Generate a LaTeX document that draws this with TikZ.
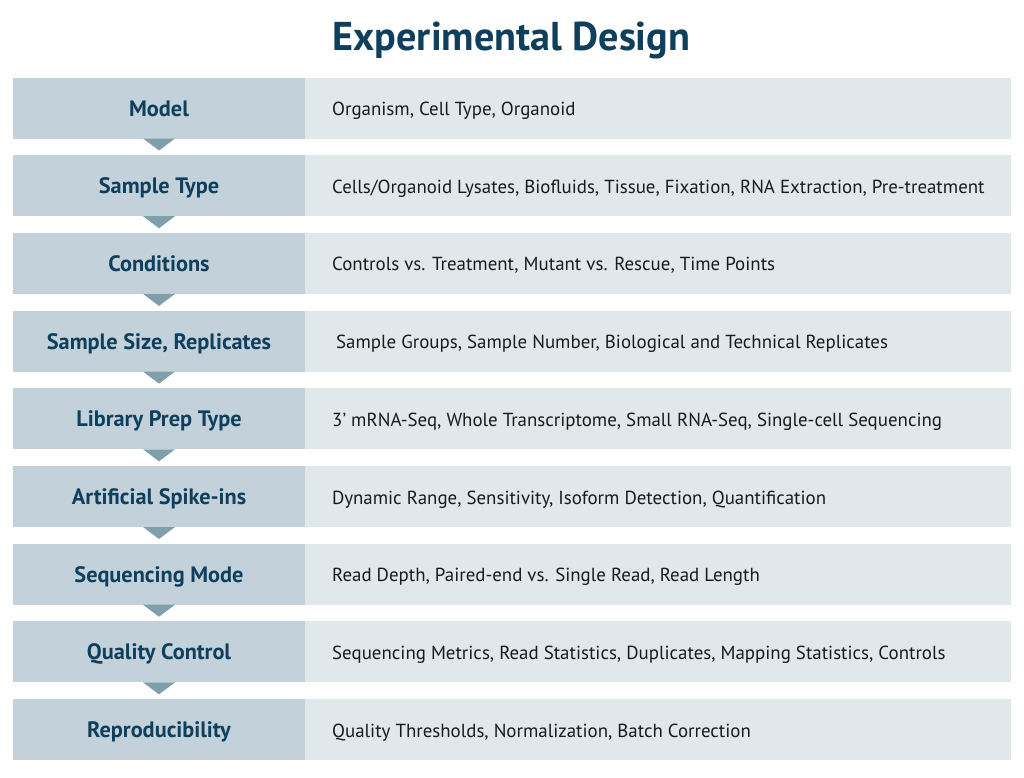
\documentclass[tikz,border=0pt]{standalone}
\usepackage{fontspec}
\setmainfont{PT Sans}
\usetikzlibrary{calc}
\definecolor{leftfill}{HTML}{C3D2DA}
\definecolor{rightfill}{HTML}{E1E8EB}
\definecolor{trifill}{HTML}{7F9FAB}
\definecolor{navy}{HTML}{0E3F5C}
\definecolor{bodytext}{HTML}{1A1A1A}
\tikzset{
  lbox/.style={fill=leftfill, draw=none, minimum width=292pt, minimum height=61pt, inner sep=0pt, outer sep=0pt},
  rbox/.style={fill=rightfill, draw=none, minimum width=705.5pt, minimum height=61pt, inner sep=0pt, outer sep=0pt},
  lbl/.style={anchor=base, inner sep=0pt, font=\fontsize{22.3}{26}\selectfont\bfseries, text=navy},
  desc/.style={anchor=base west, inner sep=0pt, font=\fontsize{18.9}{22}\selectfont, text=bodytext},
  tri/.style={fill=trifill, draw=none},
  titlestyle/.style={anchor=base, inner sep=0pt, font=\fontsize{40.2}{46}\selectfont\bfseries, text=navy}
}
\begin{document}
\begin{tikzpicture}[x=1pt,y=-1pt]
\useasboundingbox (0,0) rectangle (1024,777);
\node[titlestyle] (title) at (511.5,50) {Experimental Design};
\foreach \lab/\txt/\dx [count=\i from 0] in {
  {Model}/{Organism, Cell Type, Organoid}/0,
  {Sample Type}/{Cells/Organoid Lysates, Biofluids, Tissue, Fixation, RNA Extraction, Pre-treatment}/0,
  {Conditions}/{Controls vs. Treatment, Mutant vs. Rescue, Time Points}/0,
  {Sample Size, Replicates}/{Sample Groups, Sample Number, Biological and Technical Replicates}/4,
  {Library Prep Type}/{3’ mRNA-Seq, Whole Transcriptome, Small RNA-Seq, Single-cell Sequencing}/0,
  {Artificial Spike-ins}/{Dynamic Range, Sensitivity, Isoform Detection, Quantification}/0,
  {Sequencing Mode}/{Read Depth, Paired-end vs. Single Read, Read Length}/0,
  {Quality Control}/{Sequencing Metrics, Read Statistics, Duplicates, Mapping Statistics, Controls}/0,
  {Reproducibility}/{Quality Thresholds, Normalization, Batch Correction}/0} {
  \pgfmathsetmacro{\yc}{108+77.7*\i}
  \node[rbox] (r\i) at (657.75,\yc) {};
  \node[lbox] (l\i) at (159,\yc) {};
  \node[lbl] (t\i) at ($(l\i.center)+(0,8)$) {\lab};
  \node[desc] (d\i) at ($(r\i.west)+(27+\dx,7.5)$) {\txt};
}
\foreach \i in {0,...,7} {
  \fill[tri] ($(l\i.south)+(-16,0)$) -- ($(l\i.south)+(16,0)$) -- ($(l\i.south)+(0,12)$) -- cycle;
}
\end{tikzpicture}
\end{document}
